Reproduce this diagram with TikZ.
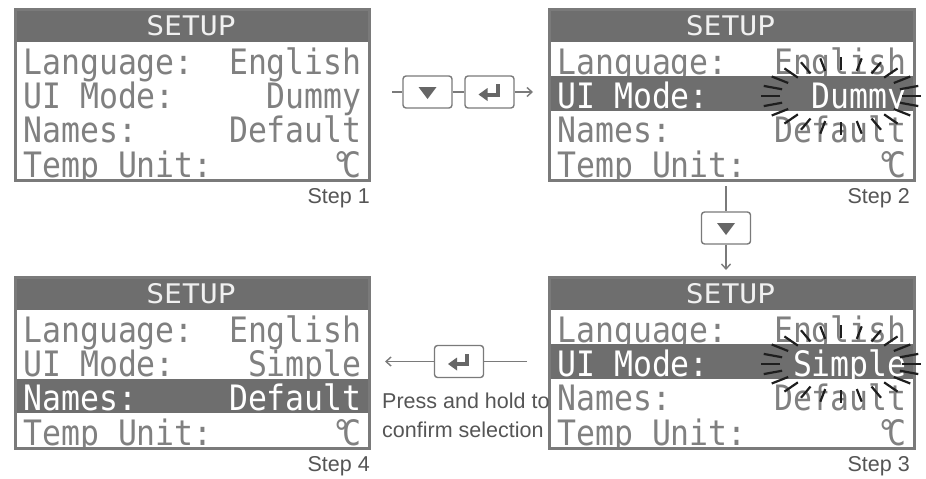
\documentclass[tikz,border=0pt]{standalone}
\usepackage{fontspec}
\setmainfont{Liberation Sans}
\newfontfamily\lcdfont[FakeStretch=0.9]{DejaVu Sans Mono}
\newfontfamily\lcdheadfont[FakeStretch=1.1]{DejaVu Sans Mono}
\usetikzlibrary{arrows.meta}
\definecolor{lcdgray}{HTML}{6E6E6E}
\definecolor{lcdtext}{HTML}{808080}
\definecolor{framegray}{HTML}{7A7A7A}
\definecolor{flashcol}{HTML}{1E1E1E}
\definecolor{labelgray}{HTML}{555555}
\definecolor{icongray}{HTML}{666666}
\newcommand\degC{°\kern-0.25em C}
% #1 name, #2 left, #3 top, #4 right, #5 highlighted row (0 = none), #6 UI mode value
\newcommand\drawscreen[6]{%
  \begin{scope}
    \clip (#2,#3) rectangle (#4,#3+171);
    \fill[white] (#2,#3) rectangle (#4,#3+171);
    \foreach \i/\lab/\val in {1/Language:/English, 2/UI Mode:/#6, 3/Names:/Default, 4/Temp Unit:/\degC} {
      \pgfmathsetmacro\yb{#3+34+34.25*\i-2}
      \ifnum\i=#5\relax
        \fill[lcdgray] (#2,{#3+34+34.25*(\i-1)}) rectangle (#4,{#3+34+34.25*\i});
        \node[lcdrow,text=white,anchor=base west] (#1-l\i) at (#2+9,\yb) {\lab};
        \node[lcdrow,text=white,anchor=base east] (#1-v\i) at (#4-6,\yb) {\val};
      \else
        \node[lcdrow,anchor=base west] (#1-l\i) at (#2+9,\yb) {\lab};
        \node[lcdrow,anchor=base east] (#1-v\i) at (#4-6,\yb) {\val};
      \fi
    }
    \fill[lcdgray] (#2,#3) rectangle (#4,#3+34);
    \node[lcdhead,anchor=base] (#1-h) at ({(#2+#4)/2},#3+27) {SETUP};
  \end{scope}
  \pgfmathsetmacro\boxw{#4-#2}
  \node[screenframe,minimum width=\boxw pt,anchor=north west] (#1) at (#2,#3) {};
}
% flashing marks round a value: centre x, centre y
\newcommand\flashmarks[2]{%
  \foreach \t in {0,15,...,345}
    \draw[flashline] ({#1+61*cos(\t)},{#2+26*sin(\t)}) -- ({#1+80*cos(\t)},{#2+39*sin(\t)});
}
\newcommand\downicon[1]{%
  \begin{scope}[shift={(#1.center)}]
    \fill[icongray] (-9,-5) -- (9,-5) -- (0,7) -- cycle;
  \end{scope}}
\newcommand\entericon[1]{%
  \begin{scope}[shift={(#1.center)}]
    \fill[icongray] (-11,2.5) -- (-2,-4) -- (-2,9) -- cycle;
    \fill[icongray] (-2.5,0.5) rectangle (10,4.5);
    \fill[icongray] (6,-8) rectangle (10,4.5);
  \end{scope}}
\begin{document}
\begin{tikzpicture}[x=1pt,y=-1pt,
  lcdrow/.style={inner sep=0,text=lcdtext,font=\lcdfont\fontsize{35}{40}\selectfont},
  lcdhead/.style={inner sep=0,text=white!94!black,font=\lcdheadfont\fontsize{27}{30}\selectfont},
  screenframe/.style={draw=framegray,line width=3,minimum height=171pt,inner sep=0},
  flashline/.style={draw=flashcol,line width=2.2},
  btn/.style={draw=framegray,line width=1.4,rounded corners=3,fill=white,minimum width=49pt,minimum height=32pt,inner sep=0},
  conn/.style={draw=framegray,line width=1.4},
  arr/.style={conn,-{Straight Barb[length=5pt,width=9pt,line width=1.4pt]}},
  steplabel/.style={inner sep=0,text=labelgray,font=\fontsize{21.5}{25}\selectfont},
  note/.style={inner sep=0,text=labelgray,font=\fontsize{21.5}{25}\selectfont}]
\useasboundingbox (0,0) rectangle (926,479);

% screens
\drawscreen{s1}{14}{8}{368}{0}{Dummy}
\drawscreen{s2}{548}{8}{913}{2}{Dummy}
\drawscreen{s3}{548}{276}{913}{2}{Simple}
\drawscreen{s4}{14}{276}{368}{3}{Simple}
\flashmarks{841}{96}
\flashmarks{841}{364}

% step labels
\node[steplabel,anchor=base east] (st1) at (370,203) {Step 1};
\node[steplabel,anchor=base east] (st2) at (910,203) {Step 2};
\node[steplabel,anchor=base east] (st3) at (910,471) {Step 3};
\node[steplabel,anchor=base east] (st4) at (370,471) {Step 4};

% step 1 -> step 2
\coordinate (c1) at (392,92);
\node[btn] (b1) at (427.5,92) {};
\node[btn] (b2) at (489.5,92) {};
\coordinate (c2) at (533,92);
\downicon{b1}
\entericon{b2}
\draw[conn] (c1) -- (b1.west);
\draw[conn] (b1.east) -- (b2.west);
\draw[arr] (b2.east) -- (c2);

% step 2 -> step 3
\coordinate (c3) at (726,186);
\node[btn] (b3) at (726,228) {};
\coordinate (c4) at (726,270);
\downicon{b3}
\draw[conn] (c3) -- (b3.north);
\draw[arr] (b3.south) -- (c4);

% step 3 -> step 4
\coordinate (c5) at (527,361.5);
\node[btn] (b4) at (459,361.5) {};
\coordinate (c6) at (385,361.5);
\entericon{b4}
\draw[conn] (c5) -- (b4.east);
\draw[arr] (b4.west) -- (c6);

\node[note,anchor=base west] (n1) at (382,408) {Press and hold to};
\node[note,anchor=base west] (n2) at (382,437) {confirm selection};
\end{tikzpicture}
\end{document}
